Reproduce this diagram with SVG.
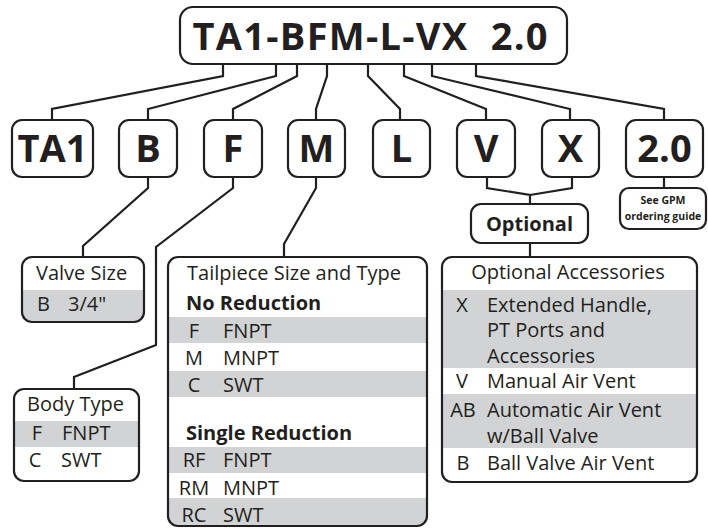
<svg xmlns="http://www.w3.org/2000/svg" width="708" height="529" viewBox="0 0 708 529">
<style>
.box{fill:#fff;stroke:#231f20;stroke-width:2.2}
.frame{fill:none;stroke:#231f20;stroke-width:2.2}
.ln{fill:none;stroke:#231f20;stroke-width:2.2;stroke-linejoin:miter}
.gray{fill:#d1d3d4}
.t{font-family:"Open Sans","Noto Sans",sans-serif;font-size:20px;fill:#231f20}
.b{font-weight:bold}
.big{font-family:"Open Sans","Noto Sans",sans-serif;font-weight:bold;font-size:38px;fill:#231f20;text-anchor:middle}
.mid{text-anchor:middle}
.sm{font-family:"Open Sans","Noto Sans",sans-serif;font-weight:bold;font-size:10.5px;fill:#231f20;text-anchor:middle}
</style>
<defs>
<clipPath id="cValve"><rect x="22" y="257" width="122" height="65" rx="10"/></clipPath>
<clipPath id="cBody"><rect x="14" y="389" width="125" height="92" rx="10"/></clipPath>
<clipPath id="cTail"><rect x="168" y="257" width="259" height="269" rx="10"/></clipPath>
<clipPath id="cOpt"><rect x="442" y="257" width="255" height="225" rx="10"/></clipPath>
</defs>

<g id="connectors">
<polyline class="ln" points="223,64 223,76 52,109 52,120"/>
<polyline class="ln" points="276,64 276,76 148,109 148,120"/>
<polyline class="ln" points="297,64 297,76 233,109 233,120"/>
<polyline class="ln" points="327,64 327,76 316,109 316,120"/>
<polyline class="ln" points="368,64 368,76 400,109 400,120"/>
<polyline class="ln" points="404,64 404,76 486,109 486,120"/>
<polyline class="ln" points="432,64 432,76 570,109 570,120"/>
<polyline class="ln" points="476,64 476,76 664,109 664,120"/>
<polyline class="ln" points="487,177 487,188 530,195 530,204"/>
<polyline class="ln" points="572,177 572,188 530,195"/>
<polyline class="ln" points="530,243 530,257"/>
<polyline class="ln" points="664,177 664,188"/>
<polyline class="ln" points="148,177 148,188 83,246 83,257"/>
<polyline class="ln" points="233,177 233,188 156,247 156,345 74,377 74,389"/>
<polyline class="ln" points="316,177 316,188 284,244 284,257"/>
</g>

<g id="title">
<rect class="box" x="180" y="7" width="387" height="57" rx="13"/>
<text class="big" x="370" y="50" xml:space="preserve" textLength="355" lengthAdjust="spacing">TA1-BFM-L-VX  2.0</text>
</g>

<g id="n-ta1"><rect class="box" x="12" y="120" width="81" height="57" rx="10"/><text class="big" x="52.5" y="162">TA1</text></g>
<g id="n-b"><rect class="box" x="119" y="120" width="58" height="57" rx="10"/><text class="big" x="148" y="162">B</text></g>
<g id="n-f"><rect class="box" x="204" y="120" width="58" height="57" rx="10"/><text class="big" x="233" y="162">F</text></g>
<g id="n-m"><rect class="box" x="288" y="120" width="57" height="57" rx="10"/><text class="big" x="316.5" y="162">M</text></g>
<g id="n-l"><rect class="box" x="373" y="120" width="57" height="57" rx="10"/><text class="big" x="401.5" y="162">L</text></g>
<g id="n-v"><rect class="box" x="457" y="120" width="58" height="57" rx="10"/><text class="big" x="486" y="162">V</text></g>
<g id="n-x"><rect class="box" x="542" y="120" width="57" height="57" rx="10"/><text class="big" x="570.5" y="162">X</text></g>
<g id="n-20"><rect class="box" x="626" y="120" width="77" height="57" rx="10"/><text class="big" x="664.5" y="162">2.0</text></g>

<g id="n-optional"><rect class="box" x="471" y="204" width="117" height="39" rx="10"/><text class="t b mid" x="529.5" y="231">Optional</text></g>

<g id="n-gpm"><rect class="box" x="620" y="188" width="86" height="41" rx="9"/>
<text class="sm" x="663" y="204">See GPM</text>
<text class="sm" x="663" y="220">ordering guide</text></g>

<g id="n-valve">
<rect x="22" y="257" width="122" height="65" rx="10" fill="#fff"/>
<g clip-path="url(#cValve)"><rect class="gray" x="22" y="290" width="122" height="32"/></g>
<rect class="frame" x="22" y="257" width="122" height="65" rx="10"/>
<text class="t" x="36" y="280">Valve Size</text>
<text class="t" x="37" y="311">B</text><text class="t" x="68" y="311">3/4"</text>
</g>

<g id="n-body">
<rect x="14" y="389" width="125" height="92" rx="10" fill="#fff"/>
<g clip-path="url(#cBody)"><rect class="gray" x="14" y="421" width="125" height="26"/></g>
<rect class="frame" x="14" y="389" width="125" height="92" rx="10"/>
<text class="t" x="27" y="411">Body Type</text>
<text class="t mid" x="37" y="440">F</text><text class="t" x="62" y="440">FNPT</text>
<text class="t mid" x="35" y="467">C</text><text class="t" x="61" y="467">SWT</text>
</g>

<g id="n-tail">
<rect x="168" y="257" width="259" height="269" rx="10" fill="#fff"/>
<g clip-path="url(#cTail)">
<rect class="gray" x="168" y="317" width="259" height="26"/>
<rect class="gray" x="168" y="371" width="259" height="26"/>
<rect class="gray" x="168" y="447" width="259" height="26"/>
<rect class="gray" x="168" y="498" width="259" height="28"/>
</g>
<rect class="frame" x="168" y="257" width="259" height="269" rx="10"/>
<text class="t" x="187" y="280">Tailpiece Size and Type</text>
<text class="t b" x="186" y="310">No Reduction</text>
<text class="t mid" x="194" y="338">F</text><text class="t" x="223" y="338">FNPT</text>
<text class="t mid" x="194" y="365">M</text><text class="t" x="223" y="365">MNPT</text>
<text class="t mid" x="194" y="392">C</text><text class="t" x="223" y="392">SWT</text>
<text class="t b" x="186" y="440">Single Reduction</text>
<text class="t mid" x="194" y="467">RF</text><text class="t" x="223" y="467">FNPT</text>
<text class="t mid" x="194" y="495">RM</text><text class="t" x="223" y="495">MNPT</text>
<text class="t mid" x="194" y="522">RC</text><text class="t" x="223" y="522">SWT</text>
</g>

<g id="n-opt">
<rect x="442" y="257" width="255" height="225" rx="10" fill="#fff"/>
<g clip-path="url(#cOpt)">
<rect class="gray" x="442" y="290" width="255" height="78"/>
<rect class="gray" x="442" y="394" width="255" height="54"/>
</g>
<rect class="frame" x="442" y="257" width="255" height="225" rx="10"/>
<text class="t mid" x="568" y="279">Optional Accessories</text>
<text class="t mid" x="462" y="312">X</text><text class="t" x="487" y="312">Extended Handle,</text>
<text class="t" x="487" y="337">PT Ports and</text>
<text class="t" x="487" y="363">Accessories</text>
<text class="t mid" x="462" y="388">V</text><text class="t" x="487" y="388">Manual Air Vent</text>
<text class="t mid" x="463" y="417">AB</text><text class="t" x="487" y="417">Automatic Air Vent</text>
<text class="t" x="487" y="443">w/Ball Valve</text>
<text class="t mid" x="463" y="470">B</text><text class="t" x="487" y="470">Ball Valve Air Vent</text>
</g>
</svg>
